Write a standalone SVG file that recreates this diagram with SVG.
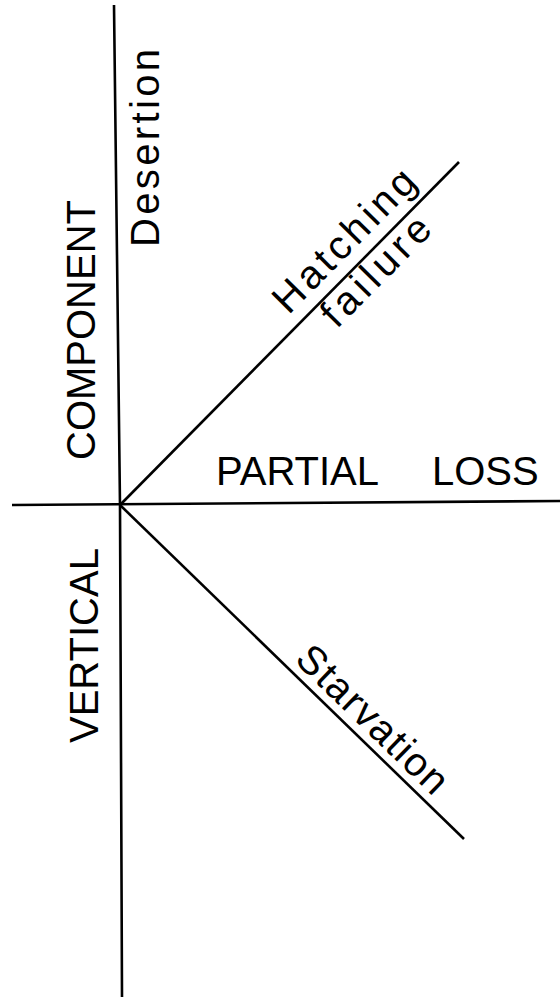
<svg xmlns="http://www.w3.org/2000/svg" width="560" height="997" viewBox="0 0 560 997">
<style>
  .ln { stroke: #000; stroke-width: 2.6; fill: none; stroke-linecap: butt; }
  .lb { font-family: "Liberation Sans", Arial, sans-serif; font-size: 40px; fill: #000; }
</style>
<rect width="560" height="997" fill="#fff"/>
<g id="connectors">
  <polyline class="ln" points="114,5 120,505 122,997"/>
  <line class="ln" x1="12" y1="505" x2="560" y2="501"/>
  <line class="ln" x1="120" y1="505" x2="459" y2="162"/>
  <line class="ln" x1="120" y1="505" x2="464" y2="839"/>
</g>
<g id="component">
  <text class="lb" transform="translate(95,460) rotate(-90)">COMPONENT</text>
</g>
<g id="vertical">
  <text class="lb" transform="translate(98,743) rotate(-90)">VERTICAL</text>
</g>
<g id="desertion">
  <text class="lb" transform="translate(159,247) rotate(-90)" textLength="198" lengthAdjust="spacing">Desertion</text>
</g>
<g id="partial-loss">
  <text class="lb" x="216" y="485">PARTIAL <tspan x="432">LOSS</tspan></text>
</g>
<g id="hatching-failure">
  <text class="lb" transform="translate(288.6,315.6) rotate(-45.3)" textLength="185" lengthAdjust="spacing">Hatching</text>
  <text class="lb" transform="translate(336.8,329.6) rotate(-45.3)" textLength="138" lengthAdjust="spacing">failure</text>
</g>
<g id="starvation">
  <text class="lb" transform="translate(293.4,660.9) rotate(44.2)" textLength="195" lengthAdjust="spacing">Starvation</text>
</g>
</svg>
